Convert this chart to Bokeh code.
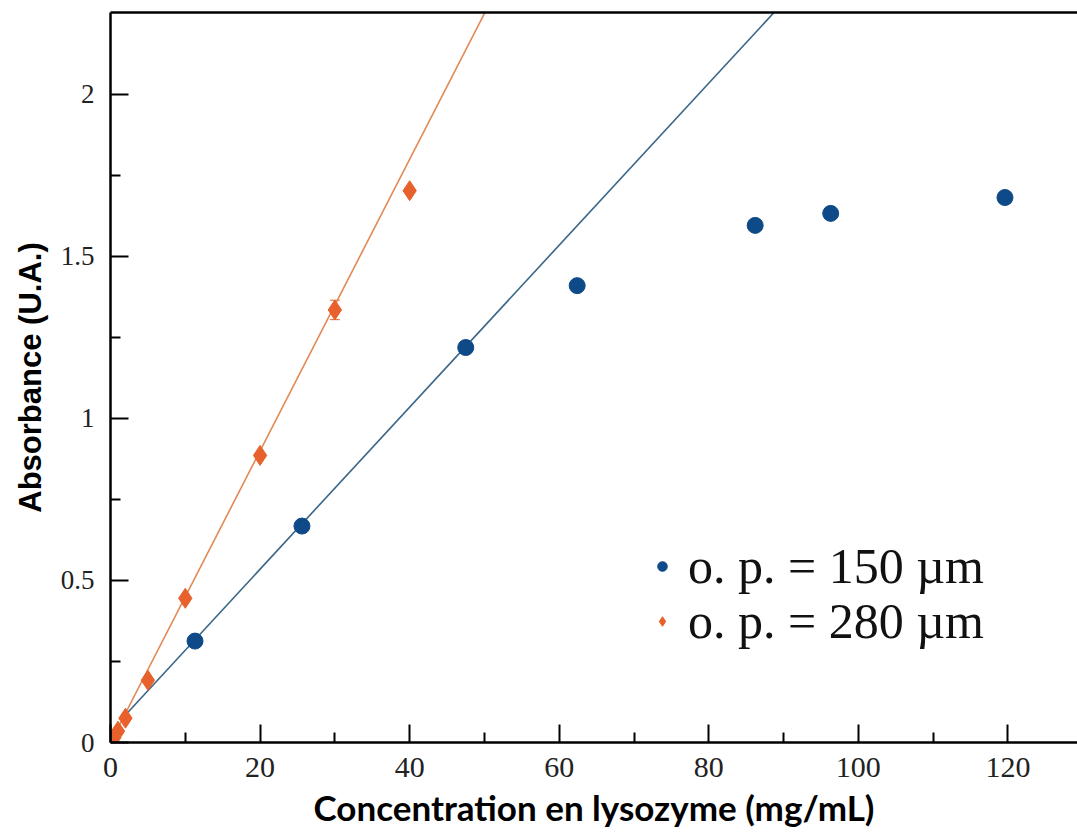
from bokeh.plotting import figure
from bokeh.models import (ColumnDataSource, Legend, LegendItem, LinearAxis, Range1d,
                          FixedTicker, Whisker)
from bokeh.embed import file_html
from bokeh.resources import INLINE

# ---- data ----
conc_150 = [11.3, 25.6, 47.5, 62.4, 86.2, 96.3, 119.6]
abs_150 = [0.313, 0.668, 1.219, 1.410, 1.596, 1.633, 1.682]

conc_280 = [0.5, 1.0, 2.0, 5.0, 10.0, 20.0, 30.0, 40.0]
abs_280 = [0.015, 0.035, 0.075, 0.192, 0.445, 0.886, 1.335, 1.703]
err_280 = [0.0, 0.0, 0.0, 0.0, 0.0, 0.0, 0.03, 0.0]

fit_150 = dict(slope=0.0250, intercept=0.035, x=[2.0, 92.0])
fit_280 = dict(slope=0.0450, intercept=0.0, x=[0.0, 52.0])

x_ticks = [0, 20, 40, 60, 80, 100, 120]
y_ticks = [0, 0.5, 1, 1.5, 2]
x_minor = [10, 30, 50, 70, 90, 110]
y_minor = [0.25, 0.75, 1.25, 1.75]

labels = ["o. p. = 150 \u00b5m", "o. p. = 280 \u00b5m"]

BLUE = "#0d4a87"
ORANGE = "#e8602c"
BLUE_LINE = "#3a6586"
ORANGE_LINE = "#e08a55"

p = figure(width=1077, height=832, output_backend="svg", toolbar_location=None,
           x_range=Range1d(0, 129.3), y_range=Range1d(0, 2.253),
           min_border_left=110, min_border_right=0, min_border_top=12,
           min_border_bottom=90, background_fill_color="white",
           border_fill_color="white")
p.outline_line_color = None
p.grid.visible = False

# fit lines
fx1 = fit_150["x"]
fy1 = [fit_150["slope"] * v + fit_150["intercept"] for v in fx1]
fx2 = fit_280["x"]
fy2 = [fit_280["slope"] * v + fit_280["intercept"] for v in fx2]
p.line(fx1, fy1, line_color=BLUE_LINE, line_width=1.6)
p.line(fx2, fy2, line_color=ORANGE_LINE, line_width=1.6)

# error bars
src280 = ColumnDataSource(dict(x=conc_280, y=abs_280,
                               lo=[a - e for a, e in zip(abs_280, err_280)],
                               hi=[a + e for a, e in zip(abs_280, err_280)]))
wh = Whisker(source=src280, base="x", lower="lo", upper="hi",
             line_color=ORANGE, line_width=1.5)
wh.upper_head.line_color = ORANGE
wh.lower_head.line_color = ORANGE
wh.upper_head.size = 10
wh.lower_head.size = 10
p.add_layout(wh)

r150 = p.scatter(conc_150, abs_150, marker="circle", size=16,
                 fill_color=BLUE, line_color=BLUE)
r280 = p.scatter("x", "y", source=src280, marker="diamond", size=20,
                 fill_color=ORANGE, line_color=ORANGE)

# axes styling
for ax in (p.xaxis[0], p.yaxis[0]):
    ax.axis_line_color = "black"
    ax.axis_line_width = 2.5
    ax.major_tick_in = 18
    ax.major_tick_out = 0
    ax.minor_tick_in = 10
    ax.minor_tick_out = 0
    ax.major_tick_line_width = 2
    ax.minor_tick_line_width = 2
    ax.major_tick_line_color = "black"
    ax.minor_tick_line_color = "black"
    ax.major_label_text_font = "Liberation Serif"
    ax.major_label_text_color = "#222222"
    ax.axis_label_text_color = "black"
    ax.axis_label_text_font_style = "bold"

p.xaxis[0].major_label_text_font_size = "30px"
p.yaxis[0].major_label_text_font_size = "27px"
p.xaxis[0].ticker = FixedTicker(ticks=x_ticks, minor_ticks=x_minor)
p.yaxis[0].ticker = FixedTicker(ticks=y_ticks, minor_ticks=y_minor)
p.xaxis[0].major_label_standoff = 15
p.yaxis[0].major_label_standoff = 16
p.xaxis[0].axis_label = "Concentration en lysozyme (mg/mL)"
p.xaxis[0].axis_label_text_font = "Lato"
p.xaxis[0].axis_label_text_font_size = "35px"
p.xaxis[0].axis_label_standoff = 6
p.yaxis[0].axis_label = "Absorbance (U.A.)"
p.yaxis[0].axis_label_text_font = "Liberation Sans"
p.yaxis[0].axis_label_text_font_size = "31px"
p.yaxis[0].axis_label_standoff = 10

top = LinearAxis(ticker=FixedTicker(ticks=[]), major_label_text_font_size="0px",
                 axis_line_color="black", axis_line_width=2.5,
                 major_tick_in=0, major_tick_out=0, minor_tick_in=0, minor_tick_out=0)
p.add_layout(top, "above")

legend_style = dict(orientation="vertical",
                    label_text_font="Liberation Serif", label_text_font_size="50px",
                    label_text_color="#111111", glyph_width=24, glyph_height=24,
                    label_standoff=14, spacing=0, padding=0, margin=0,
                    border_line_color=None, background_fill_alpha=0)
legend1 = Legend(items=[LegendItem(label=labels[0], renderers=[r150])],
                 location=(540, 147), **legend_style)
legend2 = Legend(items=[LegendItem(label=labels[1], renderers=[r280])],
                 location=(540, 92), **legend_style)
p.add_layout(legend1, "center")
p.add_layout(legend2, "center")

open("out.html", "w").write(file_html(p, INLINE))
